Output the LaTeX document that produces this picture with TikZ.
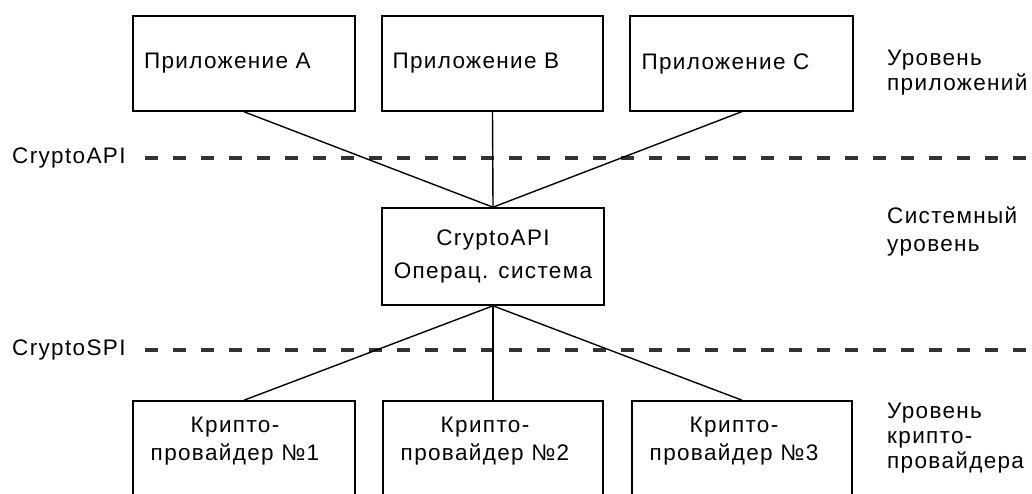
\documentclass[tikz,border=0pt]{standalone}
\usepackage{fontspec}
\setmainfont{Liberation Sans}
\newfontfamily\lblfont[LetterSpace=6]{Liberation Sans}
\begin{document}
\begin{tikzpicture}[x=1pt,y=-1pt,
  box/.style={draw=black, line width=1.6pt, rectangle, inner sep=0pt},
  conn/.style={draw=black, line width=1.4pt},
  level/.style={draw=black!80, line width=3.5pt, dash pattern=on 13pt off 15pt},
  txt/.style={font=\lblfont\fontsize{22.5}{25}\selectfont, inner sep=0pt},
]
\useasboundingbox (0,0) rectangle (1032,493);
\clip (0,0) rectangle (1032,493);

% application boxes
\node[box, txt, minimum width=222pt, minimum height=95pt, text width=200pt, align=left] (A) at (244,63.5) {Приложение A};
\node[box, txt, minimum width=221pt, minimum height=95pt, text width=200pt, align=left] (B) at (492.5,63.5) {Приложение B};
\node[box, txt, minimum width=223pt, minimum height=95pt, text width=200pt, align=left] (C) at (741.5,63.5) {Приложение C};

% system box
\node[box, txt, minimum width=222pt, minimum height=97pt, align=center] (os) at (493,256.5) {CryptoAPI\\[8pt]Операц. система};

% provider boxes
\node[box, minimum width=222pt, minimum height=130pt] (p1) at (244,466) {};
\node[box, minimum width=220pt, minimum height=130pt] (p2) at (493,466) {};
\node[box, minimum width=220pt, minimum height=130pt] (p3) at (742,466) {};
\node[txt, align=center] (t1) at (235,441) {Крипто-\\[3pt]провайдер №1};
\node[txt, align=center] (t2) at (485,441) {Крипто-\\[3pt]провайдер №2};
\node[txt, align=center] (t3) at (734,441) {Крипто-\\[3pt]провайдер №3};

% level lines
\coordinate (apiL) at (145,158);
\coordinate (apiR) at (1040,158);
\coordinate (spiL) at (145,350);
\coordinate (spiR) at (1040,350);
\draw[level] (apiL) -- (apiR);
\draw[level] (spiL) -- (spiR);
\node[txt, anchor=west] (api) at (12,158) {CryptoAPI};
\node[txt, anchor=west] (spi) at (12,350) {CryptoSPI};

% connectors
\draw[conn] (A.south) -- (os.north);
\draw[conn] (B.south) -- (os.north);
\draw[conn] (C.south) -- (os.north);
\draw[conn] (os.south) -- (p1.north);
\draw[conn] (os.south) -- (p2.north);
\draw[conn] (os.south) -- (p3.north);

% level labels
\node[txt, anchor=north west, align=left] (l1) at (887,50) {Уровень\\приложений};
\node[txt, anchor=north west, align=left] (l2) at (887,207) {Системный\\[3pt]уровень};
\node[txt, anchor=north west, align=left] (l3) at (887,403) {Уровень\\крипто-\\провайдера};
\end{tikzpicture}
\end{document}
